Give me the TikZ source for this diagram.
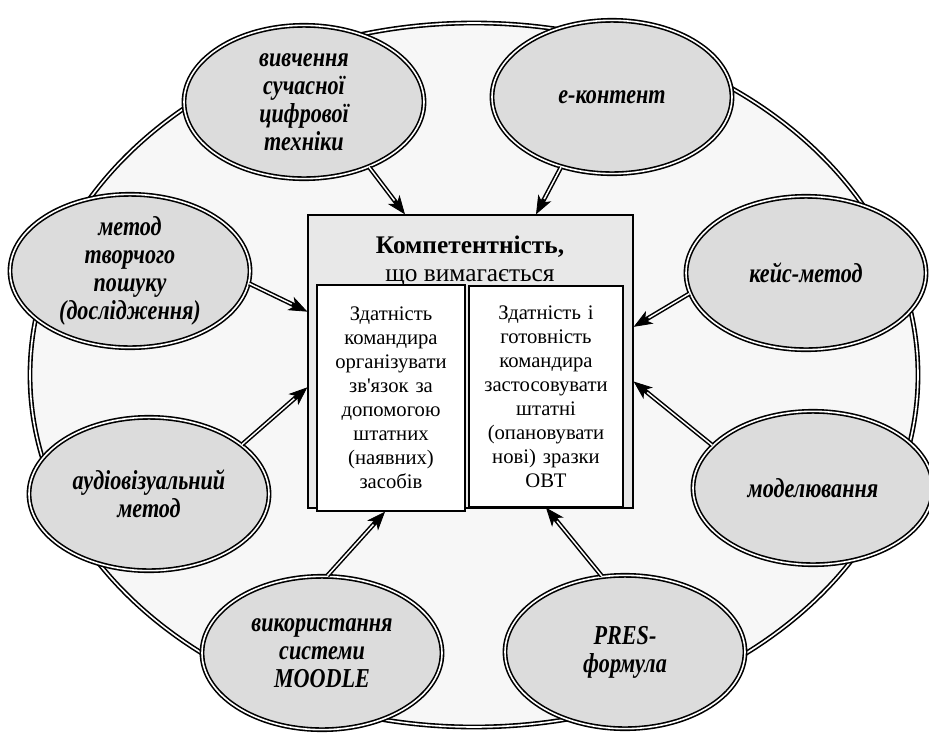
\documentclass[tikz,border=0pt]{standalone}
\usepackage{fontspec}
\setmainfont{Liberation Serif}
\newfontfamily\ellfont{Liberation Serif}[FakeStretch=0.81]
\usetikzlibrary{arrows.meta,shapes.geometric}
\definecolor{ringgray}{RGB}{247,247,247}
\definecolor{ellgray}{RGB}{220,220,220}
\definecolor{boxgray}{RGB}{232,232,232}

\begin{document}
\begin{tikzpicture}[
  x=0.75pt, y=-0.75pt,
  ring/.style={ellipse, draw, line width=1.2pt, double=white, double distance=1.2pt,
               fill=ringgray, minimum width=666pt, minimum height=528pt, inner sep=0pt},
  ell/.style={ellipse, draw, line width=1.2pt, double=white, double distance=1.2pt,
              fill=ellgray, minimum width=180pt, minimum height=115pt, inner sep=-8pt,
              text width=130pt, align=center,
              font=\ellfont\bfseries\itshape\fontsize{20.5}{21}\selectfont},
  compbox/.style={draw, line width=1pt, fill=boxgray, minimum width=243.75pt,
                  minimum height=219.75pt, inner sep=0pt},
  card/.style={draw, line width=1pt, fill=white, inner xsep=2pt, inner ysep=0pt,
               align=center, font=\fontsize{15.5}{18}\selectfont},
  arr/.style={draw=black, line width=3.4pt,
              -{Stealth[length=14pt, width=11pt, inset=4pt, line width=0.6pt]},
              postaction={draw=white, line width=1.1pt, shorten >=13pt, -}}
]
\useasboundingbox (0,0) rectangle (929,736);

\node[ring] (ring) at (474,375) {};

% centre block
\node[compbox] (comp) at (470.5,361.5) {};
\node[font=\fontsize{19}{20}\selectfont, align=center] (title) at (470,261)
  {\textbf{Компетентність,}\\[1pt]що вимагається};
\node[card, text width=107pt, minimum height=169.5pt] (lcard) at (391,398)
  {Здатність\\командира\\організувати\\зв\textquotesingle язок за\\допомогою\\штатних\\(наявних)\\засобів};
\node[card, text width=111.5pt, minimum height=165.75pt] (rcard) at (546,396.5)
  {Здатність і\\готовність\\командира\\застосовувати\\штатні\\(опановувати\\нові) зразки\\ОВТ};

% methods
\node[ell] (vyv)    at (304,102) {вивчення\\сучасної\\цифрової\\техніки};
\node[ell] (kont)   at (612,97)  {е-контент};
\node[ell] (keys)   at (806,273) {кейс-метод};
\node[ell] (model)  at (813,488) {моделювання};
\node[ell] (pres)   at (625,652) {PRES-\\формула};
\node[ell] (moodle) at (322,653) {використання\\системи\\MOODLE};
\node[ell] (audio)  at (149,494) {аудіовізуальний\\метод};
\node[ell] (tvor)   at (130,271) {метод\\творчого\\пошуку\\(дослідження)};

\draw[arr] (vyv.-45)    -- (comp.114);
\draw[arr] (kont.-126)  -- (comp.66);
\draw[arr] (tvor.-6)    -- (comp.163);
\draw[arr] (keys.190)   -- (comp.12.5);
\draw[arr] (audio.28)   -- (comp.189);
\draw[arr] (model.157)  -- (comp.-7.6);
\draw[arr] (moodle.86)  -- (lcard.267);
\draw[arr] (pres.107)   -- (rcard.south);
\end{tikzpicture}
\end{document}
